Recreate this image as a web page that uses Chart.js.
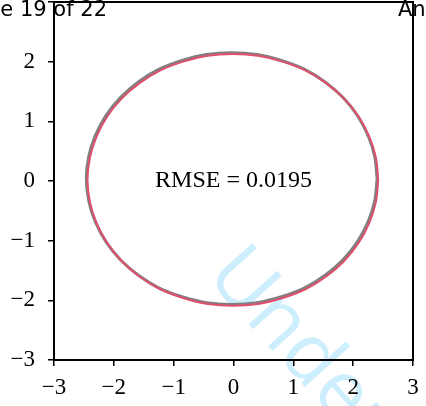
<!DOCTYPE html>
<html lang="en">
<head>
    <meta charset="UTF-8" />
    <title>RMSE ellipse</title>
    <script src="https://cdn.jsdelivr.net/npm/chart.js"></script>
    <style>
        body { margin: 0; background: #fff; }
    </style>
</head>
<body>
    <div style="width: 426px; height: 406px;">
        <canvas id="ellipseChart" width="426" height="406"></canvas>
    </div>

    <script>
        // tick values for both axes
        const xTicks = [-3, -2, -1, 0, 1, 2, 3];
        const yTicks = [-3, -2, -1, 0, 1, 2, 3];

        // true ellipse (grey)
        const trueX = [2.40, 2.36, 2.25, 2.07, 1.83, 1.53, 1.19, 0.80, 0.39, -0.03, -0.45, -0.86, -1.25, -1.59, -1.89, -2.13, -2.31, -2.42, -2.46, -2.42, -2.31, -2.13, -1.89, -1.59, -1.25, -0.86, -0.45, -0.03, 0.39, 0.80, 1.19, 1.53, 1.83, 2.07, 2.25, 2.36, 2.40];
        const trueY = [0.04, 0.41, 0.76, 1.10, 1.40, 1.66, 1.87, 2.02, 2.12, 2.15, 2.12, 2.02, 1.87, 1.66, 1.40, 1.10, 0.76, 0.41, 0.04, -0.33, -0.68, -1.02, -1.32, -1.58, -1.79, -1.94, -2.04, -2.07, -2.04, -1.94, -1.79, -1.58, -1.32, -1.02, -0.68, -0.33, 0.04];

        // fitted ellipse (red)
        const fitX = [2.42, 2.38, 2.27, 2.09, 1.85, 1.55, 1.21, 0.82, 0.41, -0.01, -0.43, -0.84, -1.23, -1.57, -1.87, -2.11, -2.29, -2.40, -2.44, -2.40, -2.29, -2.11, -1.87, -1.57, -1.23, -0.84, -0.43, -0.01, 0.41, 0.82, 1.21, 1.55, 1.85, 2.09, 2.27, 2.38, 2.42];
        const fitY = [0.02, 0.39, 0.74, 1.08, 1.38, 1.64, 1.85, 2.00, 2.10, 2.13, 2.10, 2.00, 1.85, 1.64, 1.38, 1.08, 0.74, 0.39, 0.02, -0.35, -0.70, -1.04, -1.34, -1.60, -1.81, -1.96, -2.06, -2.09, -2.06, -1.96, -1.81, -1.60, -1.34, -1.04, -0.70, -0.35, 0.02];

        const rmseText = "RMSE = 0.0195";

        function toPoints(xs, ys) {
            return xs.map((x, i) => ({ x: x, y: ys[i] }));
        }

        function minus(v) {
            return String(v).replace("-", "\u2212");
        }

        const pagePlugin = {
            id: "page",
            beforeDraw(chart) {
                const c = chart.ctx;
                c.save();
                c.fillStyle = "#fff";
                c.fillRect(0, 0, chart.width, chart.height);
                // watermark of the pdf page
                c.translate(205, 276);
                c.rotate(48 * Math.PI / 180);
                c.fillStyle = "#cdeefc";
                c.font = "80px 'Open Sans'";
                c.fillText("Under review", 0, 0);
                c.restore();

                c.save();
                c.fillStyle = "#000";
                c.font = "21px 'DejaVu Sans'";
                c.textAlign = "right";
                c.fillText("Page 19 of 22", 107, 16);
                c.textAlign = "left";
                c.fillText("Annals", 398, 16);
                c.restore();
            },
            afterDraw(chart) {
                const c = chart.ctx;
                const a = chart.chartArea;
                c.save();
                c.strokeStyle = "#000";
                c.lineWidth = 2;
                c.strokeRect(a.left, a.top, a.right - a.left, a.bottom - a.top);
                c.fillStyle = "#000";
                c.font = "24px 'Liberation Serif'";
                c.textAlign = "center";
                c.textBaseline = "middle";
                c.fillText(rmseText, chart.scales.x.getPixelForValue(0), chart.scales.y.getPixelForValue(0));
                c.restore();
            }
        };

        const tickFont = { family: "'Liberation Serif', 'Times New Roman', serif", size: 23 };

        const ctx = document.getElementById("ellipseChart").getContext("2d");
        const ellipseChart = new Chart(ctx, {
            type: "scatter",
            data: {
                datasets: [{
                    label: "Fitted",
                    data: toPoints(fitX, fitY),
                    showLine: true,
                    borderColor: "#e0506c",
                    borderWidth: 2,
                    pointRadius: 0,
                    tension: 0.33
                }, {
                    label: "True",
                    data: toPoints(trueX, trueY),
                    showLine: true,
                    borderColor: "#808080",
                    borderWidth: 3,
                    pointRadius: 0,
                    tension: 0.33
                }]
            },
            options: {
                responsive: false,
                animation: false,
                layout: { padding: { top: 2, right: 13, left: 0, bottom: 0 } },
                plugins: {
                    legend: { display: false },
                    tooltip: { enabled: false }
                },
                scales: {
                    x: {
                        type: "linear",
                        min: -3,
                        max: 3,
                        afterBuildTicks: (s) => { s.ticks = xTicks.map(v => ({ value: v })); },
                        afterFit: (s) => { s.height = 46; s.paddingLeft = 0; s.paddingRight = 0; },
                        grid: { drawOnChartArea: false, tickLength: 6, color: "#000", lineWidth: 1.5 },
                        border: { display: true, color: "#000", width: 2 },
                        ticks: { color: "#000", font: tickFont, padding: 8, maxRotation: 0, callback: minus }
                    },
                    y: {
                        type: "linear",
                        min: -3,
                        max: 3,
                        afterBuildTicks: (s) => { s.ticks = yTicks.map(v => ({ value: v })); },
                        afterFit: (s) => { s.width = 54; s.paddingTop = 0; s.paddingBottom = 0; },
                        grid: { drawOnChartArea: false, tickLength: 6, color: "#000", lineWidth: 1.5 },
                        border: { display: true, color: "#000", width: 2 },
                        ticks: { color: "#000", font: tickFont, padding: 13, callback: (v) => v === 3 ? "" : minus(v) }
                    }
                }
            },
            plugins: [pagePlugin]
        });
    </script>
</body>
</html>
